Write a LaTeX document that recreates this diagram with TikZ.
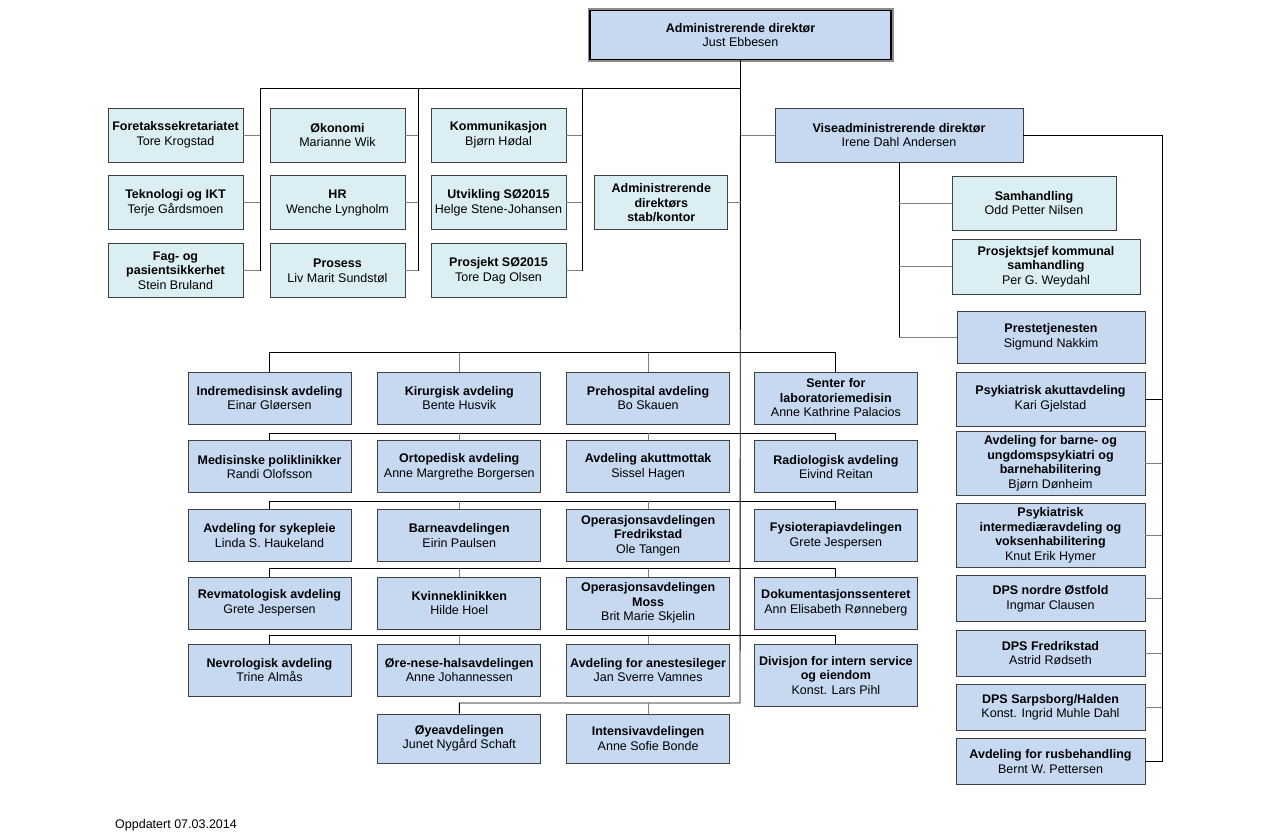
\documentclass[tikz,border=0pt]{standalone}
\usepackage{fontspec}
\setmainfont{Liberation Sans}
\usetikzlibrary{positioning}
\definecolor{deptblue}{RGB}{198,217,241}
\definecolor{stafflight}{RGB}{219,238,243}
\tikzstyle{base} = [rectangle, draw=black!75, line width=0.8pt, align=center, inner xsep=1.5pt, inner ysep=4pt, font=\fontsize{12.5}{14.5}\selectfont]
\tikzstyle{dept} = [base, fill=deptblue, minimum width=163pt, minimum height=52pt]
\tikzstyle{staff} = [base, fill=stafflight, minimum width=135pt, minimum height=54pt]
\tikzstyle{psyk} = [base, fill=deptblue, minimum width=189pt, minimum height=46pt]
\tikzstyle{ceo} = [base, fill=deptblue, draw=black, line width=1.2pt, preaction={draw=black!45, line width=5pt}, minimum width=301pt, minimum height=49pt]
\tikzstyle{trunk} = [black, line width=0.9pt]
\tikzstyle{link} = [black!50, line width=0.9pt]

\begin{document}
\begin{tikzpicture}[x=1pt, y=-1pt]
\useasboundingbox (0,0) rectangle (1266,837);

% Top
\node (ceo) [ceo] at (740.5,35) {\textbf{Administrerende direktør}\\ Just Ebbesen};

% Staff boxes
\node (fore) [staff] at (175.5,135) {\textbf{Foretakssekretariatet}\\ Tore Krogstad};
\node (tek) [staff, below=13pt of fore] {\textbf{Teknologi og IKT}\\ Terje Gårdsmoen};
\node (fag) [staff, below=13pt of tek] {\textbf{Fag- og}\\ \textbf{pasientsikkerhet}\\ Stein Bruland};
\node (okon) [staff] at (337.5,135) {\textbf{Økonomi}\\ Marianne Wik};
\node (hr) [staff, below=13pt of okon] {\textbf{HR}\\ Wenche Lyngholm};
\node (pros) [staff, below=13pt of hr] {\textbf{Prosess}\\ Liv Marit Sundstøl};
\node (komm) [staff] at (498.5,135) {\textbf{Kommunikasjon}\\ Bjørn Hødal};
\node (utv) [staff, below=13pt of komm] {\textbf{Utvikling SØ2015}\\ Helge Stene-Johansen};
\node (prosj) [staff, below=13pt of utv] {\textbf{Prosjekt SØ2015}\\ Tore Dag Olsen};
\node (stab) [staff, minimum width=133pt, right=28pt of utv] {\textbf{Administrerende}\\ \textbf{direktørs}\\ \textbf{stab/kontor}};

% Vise and its units
\node (vise) [dept, minimum width=248pt, minimum height=54pt] at (899,135) {\textbf{Viseadministrerende direktør}\\ Irene Dahl Andersen};
\node (samh) [staff, minimum width=164pt] at (1034,203) {\textbf{Samhandling}\\ Odd Petter Nilsen};
\node (pkom) [staff, minimum width=188pt, minimum height=55pt] at (1046,266.5) {\textbf{Prosjektsjef kommunal}\\ \textbf{samhandling}\\ Per G. Weydahl};
\node (prest) [psyk, minimum width=188pt, minimum height=52pt] at (1051,337) {\textbf{Prestetjenesten}\\ Sigmund Nakkim};

% Psychiatry column
\node (akutt) [psyk, minimum height=54pt] at (1050.5,399) {\textbf{Psykiatrisk akuttavdeling}\\ Kari Gjelstad};
\node (barne) [psyk, below=5pt of akutt] {\textbf{Avdeling for barne- og}\\ \textbf{ungdomspsykiatri og}\\ \textbf{barnehabilitering}\\ Bjørn Dønheim};
\node (interm) [psyk, below=8pt of barne] {\textbf{Psykiatrisk}\\ \textbf{intermediæravdeling og}\\ \textbf{voksenhabilitering}\\ Knut Erik Hymer};
\node (nordre) [psyk, below=8pt of interm] {\textbf{DPS nordre Østfold}\\ Ingmar Clausen};
\node (fredr) [psyk, below=7.5pt of nordre] {\textbf{DPS Fredrikstad}\\ Astrid Rødseth};
\node (sarp) [psyk, below=7.5pt of fredr] {\textbf{DPS Sarpsborg/Halden}\\ Konst. Ingrid Muhle Dahl};
\node (rus) [psyk, below=7.5pt of sarp] {\textbf{Avdeling for rusbehandling}\\ Bernt W. Pettersen};

% Departments, row 1
\node (indmed) [dept] at (269.5,398) {\textbf{Indremedisinsk avdeling}\\ Einar Gløersen};
\node (kir) [dept, right=26pt of indmed] {\textbf{Kirurgisk avdeling}\\ Bente Husvik};
\node (preh) [dept, right=25pt of kir] {\textbf{Prehospital avdeling}\\ Bo Skauen};
\node (senter) [dept, right=24pt of preh] {\textbf{Senter for}\\ \textbf{laboratoriemedisin}\\ Anne Kathrine Palacios};

% Row 2
\node (medpol) [dept, below=16pt of indmed] {\textbf{Medisinske poliklinikker}\\ Randi Olofsson};
\node (orto) [dept, below=16pt of kir] {\textbf{Ortopedisk avdeling}\\ Anne Margrethe Borgersen};
\node (akuttm) [dept, below=16pt of preh] {\textbf{Avdeling akuttmottak}\\ Sissel Hagen};
\node (radio) [dept, below=16pt of senter] {\textbf{Radiologisk avdeling}\\ Eivind Reitan};

% Row 3
\node (sykep) [dept, below=16pt of medpol] {\textbf{Avdeling for sykepleie}\\ Linda S. Haukeland};
\node (barn) [dept, below=16pt of orto] {\textbf{Barneavdelingen}\\ Eirin Paulsen};
\node (opfr) [dept, below=16pt of akuttm] {\textbf{Operasjonsavdelingen}\\ \textbf{Fredrikstad}\\ Ole Tangen};
\node (fysio) [dept, below=16pt of radio] {\textbf{Fysioterapiavdelingen}\\ Grete Jespersen};

% Row 4
\node (revma) [dept, below=14.5pt of sykep] {\textbf{Revmatologisk avdeling}\\ Grete Jespersen};
\node (kvinne) [dept, below=14.5pt of barn] {\textbf{Kvinneklinikken}\\ Hilde Hoel};
\node (opmo) [dept, below=14.5pt of opfr] {\textbf{Operasjonsavdelingen}\\ \textbf{Moss}\\ Brit Marie Skjelin};
\node (dok) [dept, below=14.5pt of fysio] {\textbf{Dokumentasjonssenteret}\\ Ann Elisabeth Rønneberg};

% Row 5
\node (nevro) [dept, below=14.5pt of revma] {\textbf{Nevrologisk avdeling}\\ Trine Almås};
\node (ore) [dept, below=14.5pt of kvinne] {\textbf{Øre-nese-halsavdelingen}\\ Anne Johannessen};
\node (anest) [dept, below=14.5pt of opmo] {\textbf{Avdeling for anestesileger}\\ Jan Sverre Vamnes};
\node (div) [dept, minimum height=62pt, below=14.5pt of dok] {\textbf{Divisjon for intern service}\\ \textbf{og eiendom}\\ Konst. Lars Pihl};

% Row 6
\node (oye) [dept, minimum height=49pt, below=17pt of ore] {\textbf{Øyeavdelingen}\\ Junet Nygård Schaft};
\node (intens) [dept, minimum height=49pt, below=17pt of anest] {\textbf{Intensivavdelingen}\\ Anne Sofie Bonde};

% Footer
\node (upd) [anchor=west, inner sep=0pt, font=\fontsize{12.5}{14.5}\selectfont] at (115,825) {Oppdatert 07.03.2014};

% Trunk
\coordinate (j6) at (740,703);
\draw [trunk] (ceo.south) -- (j6) -| (oye.north);
\draw [link] (intens.north) -- (intens.north |- j6);

% Staff lines
\coordinate (s1) at (260,88);
\coordinate (s2) at (418,88);
\coordinate (s3) at (582,88);
\draw [trunk] (s1) -- (s1 -| ceo.south);
\draw [trunk] (s1) -- (s1 |- fag.east);
\draw [trunk] (s2) -- (s2 |- pros.east);
\draw [trunk] (s3) -- (s3 |- prosj.east);
\draw [link] (fore.east) -- (fore.east -| s1);
\draw [link] (tek.east) -- (tek.east -| s1);
\draw [link] (fag.east) -- (fag.east -| s1);
\draw [link] (okon.east) -- (okon.east -| s2);
\draw [link] (hr.east) -- (hr.east -| s2);
\draw [link] (pros.east) -- (pros.east -| s2);
\draw [link] (komm.east) -- (komm.east -| s3);
\draw [link] (utv.east) -- (utv.east -| s3);
\draw [link] (prosj.east) -- (prosj.east -| s3);
\draw [link] (stab.east) -- (stab.east -| ceo.south);

% Vise lines
\draw [link] (vise.west) -- (vise.west -| ceo.south);
\draw [trunk] (vise.south) -- (vise.south |- prest.west);
\draw [link] (samh.west) -- (samh.west -| vise.south);
\draw [link] (pkom.west) -- (pkom.west -| vise.south);
\draw [link] (prest.west) -- (prest.west -| vise.south);
\coordinate (vr) at (1162,135);
\draw [trunk] (vise.east) -- (vr) |- (rus.east);
\draw [trunk] (akutt.east) -- (akutt.east -| vr);
\draw [link] (barne.east) -- (barne.east -| vr);
\draw [link] (interm.east) -- (interm.east -| vr);
\draw [link] (nordre.east) -- (nordre.east -| vr);
\draw [link] (fredr.east) -- (fredr.east -| vr);
\draw [link] (sarp.east) -- (sarp.east -| vr);

% Department rows
\draw [trunk] (indmed.north) -- ++(0,-19) -| (senter.north);
\draw [link] (kir.north) -- ++(0,-19);
\draw [link] (preh.north) -- ++(0,-19);
\draw [trunk] (medpol.north) -- ++(0,-7) -| (radio.north);
\draw [link] (orto.north) -- ++(0,-7);
\draw [link] (akuttm.north) -- ++(0,-7);
\draw [trunk] (sykep.north) -- ++(0,-8) -| (fysio.north);
\draw [link] (barn.north) -- ++(0,-8);
\draw [link] (opfr.north) -- ++(0,-8);
\draw [trunk] (revma.north) -- ++(0,-8) -| (dok.north);
\draw [link] (kvinne.north) -- ++(0,-8);
\draw [link] (opmo.north) -- ++(0,-8);
\draw [trunk] (nevro.north) -- ++(0,-8) -| (div.north);
\draw [link] (ore.north) -- ++(0,-8);
\draw [link] (anest.north) -- ++(0,-8);

\end{tikzpicture}
\end{document}
